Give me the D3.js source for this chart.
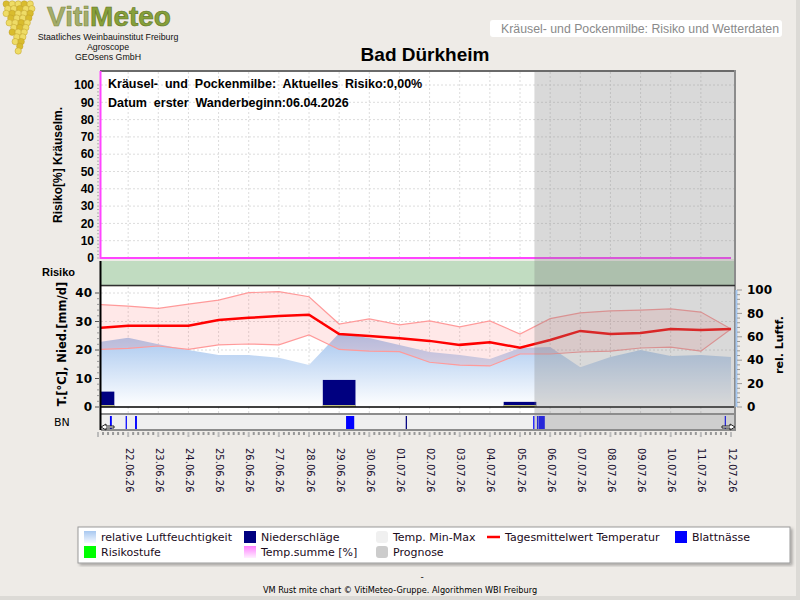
<!DOCTYPE html>
<html>
<head>
<meta charset="utf-8">
<script src="https://cdn.jsdelivr.net/npm/d3@7/dist/d3.min.js"></script>
<style>
  body { margin: 0; background: #eeebe7; }
  svg { display: block; }
</style>
</head>
<body>
<div id="chart"></div>
<script>
// 1: DATA
const days = ["21.06.26","22.06.26","23.06.26","24.06.26","25.06.26","26.06.26","27.06.26","28.06.26",
  "29.06.26","30.06.26","01.07.26","02.07.26","03.07.26","04.07.26","05.07.26","06.07.26",
  "07.07.26","08.07.26","09.07.26","10.07.26","11.07.26","12.07.26"];
const tMean = [27.7, 28.5, 28.5, 28.5, 30.5, 31.3, 31.9, 32.4, 25.6, 24.9, 24.1, 23.2, 21.8, 22.7, 20.8,
  23.5, 26.7, 25.6, 26.0, 27.4, 27.0, 27.4];
const tMax = [36.0, 35.4, 34.6, 36.1, 37.5, 40.1, 40.5, 38.7, 29.1, 30.9, 28.8, 30.2, 28.1, 30.2, 25.6,
  31.0, 33.0, 33.7, 34.0, 34.4, 33.3, 27.4];
const tMin = [20.2, 20.6, 21.4, 20.2, 21.8, 22.1, 21.8, 25.3, 20.2, 19.6, 19.4, 15.7, 14.7, 14.4, 18.6,
  18.6, 19.3, 19.6, 20.7, 21.0, 19.6, 27.4];
const relHum = [55.5, 59.2, 53.6, 48.7, 44.4, 44.4, 42.1, 35.9, 63.0, 59.0, 53.0, 47.0, 44.4, 41.0, 50.4,
  51.3, 34.0, 42.7, 48.7, 43.6, 44.4, 42.7];
const precip = [5.4, 0, 0, 0, 0, 0, 0, 0, 9.5, 0, 0, 0, 0, 0, 1.8, 0, 0, 0, 0, 0, 0, 0];
const risk = days.map(() => 0);   // Aktuelles Risiko 0,00 %

// Blattnässe: start and duration in hours
const bnStart = ["21.06.26 09:30","21.06.26 22:00","22.06.26 05:30","29.06.26 05:30","01.07.26 05:00",
  "05.07.26 10:30","05.07.26 13:30","05.07.26 14:45","11.07.26 19:00"];
const bnHours = [1.5, 1, 1.5, 6.5, 1, 1, 1, 5, 1];
const prognoseStart = "05.07.26 11:30";

const riskTicks = [0,10,20,30,40,50,60,70,80,90,100];
const tTicks = [0,10,20,30,40];
const rhTicks = [0,20,40,60,80,100];

const legendItems = [
  { label: "relative Luftfeuchtigkeit", type: "rh" },
  { label: "Niederschläge", type: "prec" },
  { label: "Temp. Min-Max", type: "minmax" },
  { label: "Tagesmittelwert Temperatur", type: "line" },
  { label: "Blattnässe", type: "bn" },
  { label: "Risikostufe", type: "risk" },
  { label: "Temp.summe [%]", type: "tsum" },
  { label: "Prognose", type: "prog" }
];

// 2: SETUP
const svg = d3.select("#chart").append("svg")
  .attr("width", 800).attr("height", 600);

const parseDay = d3.timeParse("%d.%m.%y");
const parseTime = d3.timeParse("%d.%m.%y %H:%M");

const data = days.map((d, i) => ({
  date: parseDay(d), mean: tMean[i], max: tMax[i], min: tMin[i],
  rh: relHum[i], prec: precip[i], risk: risk[i]
}));

const plotL = 101, plotR = 735;
const top1 = 72, bot1 = 259;      // risk panel
const bandTop = 261, bandBot = 285; // risk level band
const top2 = 287, bot2 = 413;     // weather panel
const bnTop = 415, bnBot = 430;   // leaf wetness strip

const x = d3.scaleTime()
  .domain([data[0].date, data[data.length - 1].date])
  .range([98, 731]);
const yRisk = d3.scaleLinear().domain([0, 100]).range([258, 85]);
const yT = d3.scaleLinear().domain([0, 40]).range([407, 293]);
const yRH = d3.scaleLinear().domain([0, 100]).range([407, 290]);

const defs = svg.append("defs");
defs.append("clipPath").attr("id", "plotClip")
  .append("rect").attr("x", plotL).attr("y", 60).attr("width", plotR - plotL).attr("height", 380);

const rhGrad = defs.append("linearGradient").attr("id", "rhGrad")
  .attr("gradientUnits", "userSpaceOnUse").attr("x1", 0).attr("x2", 0)
  .attr("y1", yRH(65)).attr("y2", yRH(0));
rhGrad.append("stop").attr("offset", "0%").attr("stop-color", "#a3c4ee");
rhGrad.append("stop").attr("offset", "100%").attr("stop-color", "#ffffff");

const swRh = defs.append("linearGradient").attr("id", "swRh").attr("x1", 0).attr("x2", 0).attr("y1", 0).attr("y2", 1);
swRh.append("stop").attr("offset", "0%").attr("stop-color", "#a8c8f0");
swRh.append("stop").attr("offset", "100%").attr("stop-color", "#f4f8ff");
const swTs = defs.append("linearGradient").attr("id", "swTs").attr("x1", 0).attr("x2", 0).attr("y1", 0).attr("y2", 1);
swTs.append("stop").attr("offset", "0%").attr("stop-color", "#ff80ff");
swTs.append("stop").attr("offset", "100%").attr("stop-color", "#fff0ff");

const shadow = defs.append("filter").attr("id", "shadow");
shadow.append("feDropShadow").attr("dx", 2).attr("dy", 2).attr("stdDeviation", 1.5)
  .attr("flood-color", "#000").attr("flood-opacity", 0.3);

// 3: HEADER / LOGO
const logo = svg.append("g");
// grape cluster (decoration)
const grapeRows = [5, 5, 5, 4, 4, 3, 3, 2, 2, 1, 1];
grapeRows.forEach((n, r) => {
  for (let k = 0; k < n; k++) {
    logo.append("circle")
      .attr("cx", 19 - (n - 1) * 3 + k * 6 + (r % 2 ? 0.8 : -0.8))
      .attr("cy", 4 + r * 4.7)
      .attr("r", 3.2)
      .attr("fill", (k + r) % 3 === 0 ? "#d9bc2e" : "#eedc66")
      .attr("stroke", "#c0a028").attr("stroke-width", 0.5);
  }
});
logo.append("text").attr("x", 47).attr("y", 25.5)
  .style("font-family", "Liberation Sans, Arial, sans-serif").style("font-weight", "bold")
  .style("font-size", "28px")
  .html('<tspan fill="#a4ad6c" stroke="#7d8a3a" stroke-width="0.6">Viti</tspan><tspan fill="#86a03a" stroke="#5e7424" stroke-width="0.6">Meteo</tspan>');
const logoLines = ["Staatliches Weinbauinstitut Freiburg", "Agroscope", "GEOsens GmbH"];
logo.selectAll(".ll").data(logoLines).enter().append("text")
  .attr("x", 108).attr("y", (d, i) => 39.5 + i * 10)
  .attr("text-anchor", "middle")
  .style("font-family", "Liberation Sans, Arial, sans-serif").style("font-size", "8.8px")
  .style("fill", "#111").text(d => d);

svg.append("rect").attr("x", 490).attr("y", 20).attr("width", 292).attr("height", 17)
  .attr("rx", 3).attr("fill", "#fff");
svg.append("text").attr("x", 779).attr("y", 33).attr("text-anchor", "end")
  .style("font-family", "Liberation Sans, Arial, sans-serif").style("font-size", "12.3px")
  .style("fill", "#8a8a8a").text("Kräusel- und Pockenmilbe: Risiko und Wetterdaten");

svg.append("text").attr("x", 425).attr("y", 61).attr("text-anchor", "middle")
  .style("font-family", "Liberation Sans, Arial, sans-serif").style("font-weight", "bold")
  .style("font-size", "19px").text("Bad Dürkheim");

// 4: PANEL BACKGROUNDS
svg.append("rect").attr("x", plotL).attr("y", top1).attr("width", plotR - plotL).attr("height", bot1 - top1).attr("fill", "#fff");
svg.append("rect").attr("x", plotL).attr("y", bandTop).attr("width", plotR - plotL).attr("height", bandBot - bandTop).attr("fill", "#c1dcc1");
svg.append("rect").attr("x", plotL).attr("y", top2).attr("width", plotR - plotL).attr("height", bot2 - top2).attr("fill", "#fff");
svg.append("rect").attr("x", plotL).attr("y", bnTop).attr("width", plotR - plotL).attr("height", bnBot - bnTop).attr("fill", "#efefef");

// grids
const grid = svg.append("g").attr("stroke", "#dcdcdc").attr("stroke-dasharray", "2,2").attr("stroke-width", 1);
const innerDays = data.slice(1, -1).map(d => d.date);
grid.selectAll(".v1").data(innerDays).enter().append("line")
  .attr("x1", d => x(d)).attr("x2", d => x(d)).attr("y1", top1).attr("y2", bot1 - 2);
grid.selectAll(".v2").data(innerDays).enter().append("line")
  .attr("x1", d => x(d)).attr("x2", d => x(d)).attr("y1", top2).attr("y2", bot2);
grid.selectAll(".h1").data(riskTicks.slice(1)).enter().append("line")
  .attr("x1", plotL).attr("x2", plotR).attr("y1", d => yRisk(d)).attr("y2", d => yRisk(d));
grid.selectAll(".h2").data(tTicks.slice(1)).enter().append("line")
  .attr("x1", plotL).attr("x2", plotR).attr("y1", d => yT(d)).attr("y2", d => yT(d));

// 5: PLOT DATA
const plot = svg.append("g").attr("clip-path", "url(#plotClip)");

// relative humidity
plot.append("path").datum(data)
  .attr("fill", "url(#rhGrad)")
  .attr("d", d3.area().x(d => x(d.date)).y0(yRH(0)).y1(d => yRH(d.rh)));

// precipitation bars
const barW = x(parseTime("01.07.26 02:00")) - x(parseDay("30.06.26"));
const bars = data.filter(d => d.prec > 0);
plot.selectAll(".bar").data(bars).enter().append("rect")
  .attr("x", d => x(d.date) - barW / 2).attr("width", barW)
  .attr("y", d => yT(d.prec)).attr("height", d => yT(0) - yT(d.prec))
  .attr("fill", "#000080");
plot.selectAll(".barfoot").data(bars).enter().append("line")
  .attr("x1", d => x(d.date) - barW / 2).attr("x2", d => x(d.date) + barW / 2)
  .attr("y1", yT(0) - 1).attr("y2", yT(0) - 1)
  .attr("stroke", "#ffff80").attr("stroke-width", 1.5);

// temperature min-max band
plot.append("path").datum(data)
  .attr("fill", "rgba(255,110,110,0.16)")
  .attr("d", d3.area().x(d => x(d.date)).y0(d => yT(d.min)).y1(d => yT(d.max)));
["max", "min"].forEach(k => {
  plot.append("path").datum(data)
    .attr("fill", "none").attr("stroke", "#ff9a9a").attr("stroke-width", 1.2)
    .attr("d", d3.line().x(d => x(d.date)).y(d => yT(d[k])));
});
// mean temperature
plot.append("path").datum(data)
  .attr("fill", "none").attr("stroke", "#ff0000").attr("stroke-width", 2.5)
  .attr("d", d3.line().x(d => x(d.date)).y(d => yT(d.mean)));

// zero line of weather panel
svg.append("line").attr("x1", plotL).attr("x2", plotR).attr("y1", yT(0)).attr("y2", yT(0))
  .attr("stroke", "#000").attr("stroke-width", 1.5);

// risk line
plot.append("path").datum(data)
  .attr("fill", "none").attr("stroke", "#ff44ff").attr("stroke-width", 2)
  .attr("d", d3.line().x(d => x(d.date)).y(d => yRisk(d.risk)));

// leaf wetness
const bnData = bnStart.map((s, i) => ({ t: parseTime(s), h: bnHours[i] }));
plot.selectAll(".bn").data(bnData).enter().append("rect")
  .attr("x", d => x(d.t))
  .attr("width", d => Math.max(1, x(d3.timeMinute.offset(d.t, d.h * 60)) - x(d.t)))
  .attr("y", bnTop + 1).attr("height", bnBot - bnTop - 1)
  .attr("fill", (d, i) => i === 4 ? "#000080" : "#0000ff");

// prognose overlay
const xProg = x(parseTime(prognoseStart));
svg.append("rect").attr("x", xProg).attr("y", top1).attr("width", plotR - xProg).attr("height", bnBot - top1)
  .attr("fill", "#808080").attr("opacity", 0.3);

// 6: BORDERS
svg.append("line").attr("x1", plotL - 1).attr("x2", plotR).attr("y1", top1 - 1).attr("y2", top1 - 1)
  .attr("stroke", "#6a6a6a").attr("stroke-width", 2);
svg.append("line").attr("x1", plotR).attr("x2", plotR).attr("y1", top1 - 2).attr("y2", bnBot + 1)
  .attr("stroke", "#8c8c8c").attr("stroke-width", 2);
svg.append("line").attr("x1", plotL).attr("x2", plotR).attr("y1", bandBot + 0.5).attr("y2", bandBot + 0.5)
  .attr("stroke", "#303030").attr("stroke-width", 1.5);
svg.append("line").attr("x1", plotL).attr("x2", plotR).attr("y1", bot2 + 1).attr("y2", bot2 + 1)
  .attr("stroke", "#8c8c8c").attr("stroke-width", 2);
svg.append("line").attr("x1", plotL).attr("x2", plotR).attr("y1", bnBot).attr("y2", bnBot)
  .attr("stroke", "#8c8c8c").attr("stroke-width", 2);
svg.append("line").attr("x1", plotL - 0.5).attr("x2", plotL - 0.5).attr("y1", top1 - 1).attr("y2", bot1)
  .attr("stroke", "#ff44ff").attr("stroke-width", 2);
svg.append("line").attr("x1", plotL - 0.5).attr("x2", plotL - 0.5).attr("y1", bandTop).attr("y2", bnBot)
  .attr("stroke", "#000").attr("stroke-width", 2);

// arrows at the strip ends
const arrow = "M0,0 l5,-3 v2 h8 v2 h-8 v2 z";
svg.append("path").attr("d", arrow).attr("transform", `translate(${plotL},${bnBot - 3})`)
  .attr("fill", "#fff").attr("stroke", "#222").attr("stroke-width", 1);
svg.append("path").attr("d", arrow).attr("transform", `translate(${plotR},${bnBot - 3}) scale(-1,1)`)
  .attr("fill", "#fff").attr("stroke", "#222").attr("stroke-width", 1);

// 7: AXES
const armFont = "Liberation Sans, Arial, sans-serif";
const verFont = "DejaVu Sans, Verdana, sans-serif";

// risk axis
const axR = svg.append("g");
axR.selectAll(".mt").data(d3.range(0, 101, 2)).enter().append("line")
  .attr("x1", plotL - 4).attr("x2", plotL - 2).attr("y1", d => yRisk(d)).attr("y2", d => yRisk(d))
  .attr("stroke", "#b0b0b0");
axR.selectAll(".tl").data(riskTicks).enter().append("text")
  .attr("x", plotL - 7).attr("y", d => yRisk(d)).attr("dy", "0.35em").attr("text-anchor", "end")
  .style("font-family", armFont).style("font-weight", "bold").style("font-size", "12px").text(d => d);

// temperature axis
const axT = svg.append("g");
axT.selectAll(".mt").data(d3.range(0, 41, 2)).enter().append("line")
  .attr("x1", d => d % 10 === 0 ? plotL - 6 : plotL - 4).attr("x2", plotL - 2)
  .attr("y1", d => yT(d)).attr("y2", d => yT(d))
  .attr("stroke", d => d % 10 === 0 ? "#555" : "#999");
axT.selectAll(".tl").data(tTicks).enter().append("text")
  .attr("x", plotL - 9).attr("y", d => yT(d)).attr("dy", "0.35em").attr("text-anchor", "end")
  .style("font-family", verFont).style("font-weight", "bold").style("font-size", "12px").text(d => d);

// humidity axis
const axH = svg.append("g");
axH.append("line").attr("x1", plotR + 1.5).attr("x2", plotR + 1.5).attr("y1", yRH(100)).attr("y2", yRH(0))
  .attr("stroke", "#a6c8f0").attr("stroke-width", 2);
axH.selectAll(".mt").data(d3.range(0, 101, 4)).enter().append("line")
  .attr("x1", plotR + 2).attr("x2", d => d % 20 === 0 ? plotR + 7 : plotR + 5)
  .attr("y1", d => yRH(d)).attr("y2", d => yRH(d)).attr("stroke", "#999");
axH.selectAll(".tl").data(rhTicks).enter().append("text")
  .attr("x", plotR + 12).attr("y", d => yRH(d)).attr("dy", "0.35em")
  .style("font-family", verFont).style("font-weight", "bold").style("font-size", "12px").text(d => d);

// x axis ticks and labels
const axX = svg.append("g");
const hourTicks = d3.timeHour.every(4).range(data[0].date, d3.timeHour.offset(data[data.length - 1].date, 1));
axX.selectAll(".mt").data(hourTicks).enter().append("rect")
  .attr("x", d => x(d) - 1).attr("y", bnBot + 2)
  .attr("width", 2).attr("height", d => d.getHours() === 0 ? 5 : 3)
  .attr("fill", d => d.getHours() === 0 ? "#bbbbbb" : "#999");
axX.selectAll(".xl").data(data.slice(1)).enter().append("text")
  .attr("transform", d => `translate(${x(d.date) + 1},448) rotate(90)`)
  .attr("dy", "0.35em")
  .style("font-family", verFont).style("font-size", "10px").style("fill", "#1a1030")
  .text(d => d3.timeFormat("%d.%m.%y")(d.date));

// axis titles
svg.append("text").attr("transform", "translate(62,165) rotate(-90)").attr("text-anchor", "middle")
  .style("font-family", armFont).style("font-weight", "bold").style("font-size", "12px")
  .text("Risiko[%] Kräuselm.");
svg.append("text").attr("x", 42).attr("y", 276)
  .style("font-family", armFont).style("font-weight", "bold").style("font-size", "11px").text("Risiko");
svg.append("text").attr("transform", "translate(66,344) rotate(-90)").attr("text-anchor", "middle")
  .style("font-family", verFont).style("font-weight", "bold").style("font-size", "11.5px")
  .text("T.[°C], Nied.[mm/d]");
svg.append("text").attr("x", 54).attr("y", 426)
  .style("font-family", verFont).style("font-size", "11px").text("BN");
svg.append("text").attr("transform", "translate(783,345) rotate(-90)").attr("text-anchor", "middle")
  .style("font-family", verFont).style("font-weight", "bold").style("font-size", "11px")
  .text("rel. Luftf.");

// info texts in the risk panel
const info = ["Kräusel-  und  Pockenmilbe:  Aktuelles  Risiko:0,00%", "Datum  erster  Wanderbeginn:06.04.2026"];
svg.selectAll(".info").data(info).enter().append("text")
  .attr("x", 108).attr("y", (d, i) => 88 + i * 19)
  .attr("xml:space", "preserve")
  .style("white-space", "pre")
  .style("font-family", armFont).style("font-weight", "bold").style("font-size", "12.5px")
  .text(d => d);

// 8: LEGEND
const lg = svg.append("g");
lg.append("rect").attr("x", 78).attr("y", 527).attr("width", 712).attr("height", 36)
  .attr("fill", "#fff").attr("stroke", "#9a9a9a").attr("filter", "url(#shadow)");
const colX = [84, 244, 376, 487, 675];
legendItems.forEach((it, i) => {
  const col = i < 5 ? i : i - 5;
  const row = i < 5 ? 0 : 1;
  const gx = colX[col], gy = 531 + row * 15;
  if (it.type === "line") {
    lg.append("line").attr("x1", gx).attr("x2", gx + 13).attr("y1", gy + 6).attr("y2", gy + 6)
      .attr("stroke", "#ff0000").attr("stroke-width", 2.5);
  } else {
    const fills = { rh: "url(#swRh)", prec: "#000080", minmax: "#f0f0f0", bn: "#0000ff",
      risk: "#00ff00", tsum: "url(#swTs)", prog: "#cccccc" };
    lg.append("rect").attr("x", gx).attr("y", gy).attr("width", 12).attr("height", 12)
      .attr("rx", (it.type === "minmax" || it.type === "prog") ? 3 : 0)
      .attr("fill", fills[it.type]);
  }
  lg.append("text").attr("x", gx + (it.type === "line" ? 18 : 17)).attr("y", gy + 10)
    .style("font-family", verFont).style("font-size", "11px").style("fill", "#1a0a1a")
    .text(it.label);
});

// 9: FOOTER
svg.append("text").attr("x", 422).attr("y", 580).attr("text-anchor", "middle")
  .style("font-family", verFont).style("font-size", "9px").text("-");
svg.append("text").attr("x", 400).attr("y", 593).attr("text-anchor", "middle")
  .style("font-family", verFont).style("font-size", "8.2px")
  .text("VM Rust mite chart © VitiMeteo-Gruppe. Algorithmen WBI Freiburg");
svg.append("rect").attr("x", 0).attr("y", 596).attr("width", 800).attr("height", 4).attr("fill", "#dcdad6");
svg.append("rect").attr("x", 796).attr("y", 0).attr("width", 4).attr("height", 600).attr("fill", "#dcdad6");
</script>
</body>
</html>
